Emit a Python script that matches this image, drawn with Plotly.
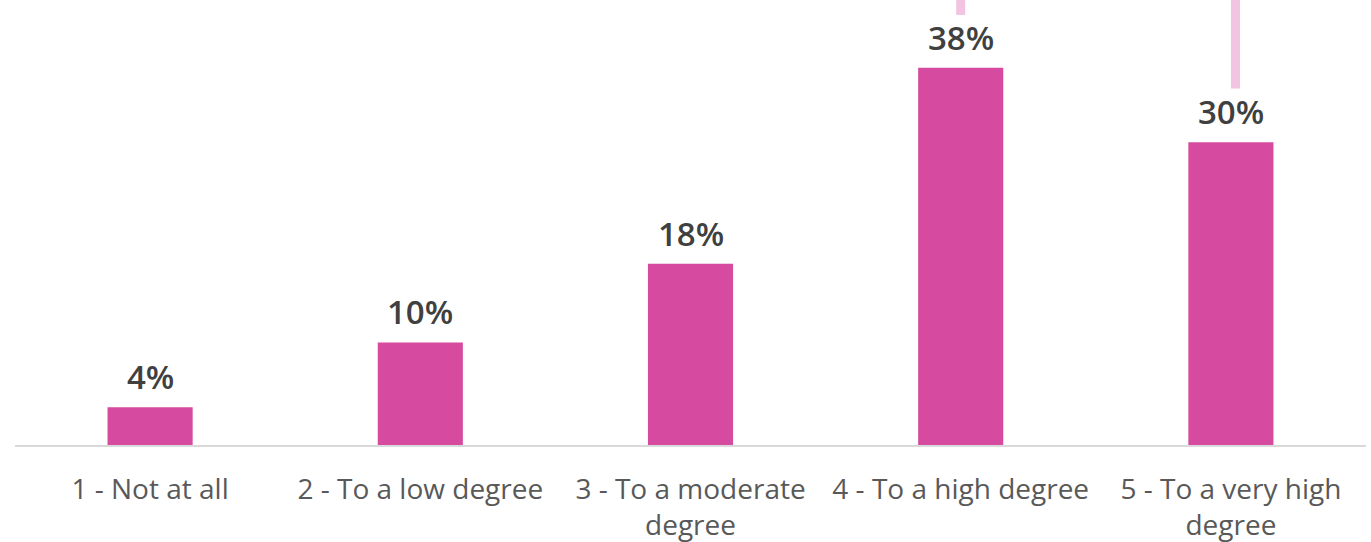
import plotly.graph_objects as go

categories = ["1 - Not at all", "2 - To a low degree", "3 - To a moderate<br>degree",
              "4 - To a high degree", "5 - To a very high<br>degree"]
values = [3.8, 10.3, 18.2, 37.9, 30.4]
labels = ["4%", "10%", "18%", "38%", "30%"]

BAR = "#D64AA0"
LINE_PINK = "#F2C4E1"

fig = go.Figure()
fig.add_trace(go.Bar(
    x=list(range(len(categories))), y=values,
    marker=dict(color=BAR, line=dict(width=0)),
    width=0.315, hoverinfo="skip",
))

for i, (v, t) in enumerate(zip(values, labels)):
    fig.add_annotation(x=i, y=v, text=t, showarrow=False,
                       yanchor="bottom", yshift=6,
                       font=dict(family="Open Sans", size=33, color="#404040", weight=600))

# decorative leader lines at top (bracket cut off)
fig.add_shape(type="line", xref="x", yref="y", x0=3, x1=3, y0=values[3] + 5.3, y1=46,
              line=dict(color=LINE_PINK, width=9))
fig.add_shape(type="line", xref="x", yref="y", x0=4.017, x1=4.017, y0=values[4] + 5.4, y1=46,
              line=dict(color=LINE_PINK, width=9))

fig.update_layout(
    width=1371, height=542,
    margin=dict(l=15, r=5, t=0, b=97),
    paper_bgcolor="white", plot_bgcolor="white",
    showlegend=False,
    xaxis=dict(
        tickmode="array", tickvals=list(range(len(categories))), ticktext=categories,
        range=[-0.5, 4.5], showgrid=False, zeroline=False,
        showline=True, linecolor="#D9D9D9", linewidth=2,
        ticks="", ticklabelstandoff=18,
        tickfont=dict(family="Open Sans", size=28, color="#595959"),
    ),
    yaxis=dict(range=[0, 44.7], visible=False, showgrid=False, zeroline=False),
)

fig.write_html("out.html")
